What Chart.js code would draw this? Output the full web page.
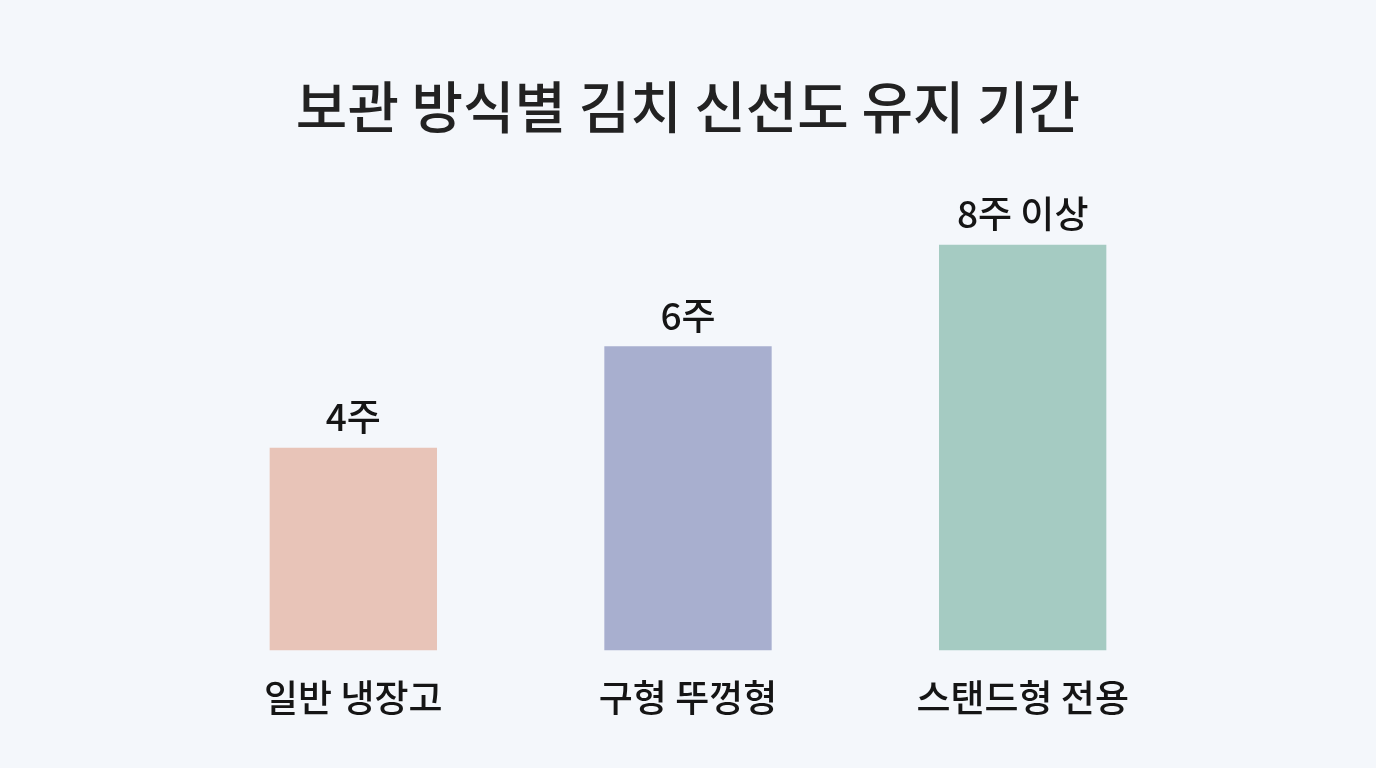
<!DOCTYPE html>
<html lang="ko">
<head>
<meta charset="utf-8">
<title>보관 방식별 김치 신선도 유지 기간</title>
<script src="https://cdn.jsdelivr.net/npm/chart.js@4.4.1/dist/chart.umd.min.js"></script>
<style>
  html, body { margin: 0; padding: 0; background: #f4f7fb; }
  #wrap { width: 1376px; height: 768px; }
</style>
</head>
<body>
<div id="wrap"><canvas id="kimchiChart"></canvas></div>
<script>
// data
const categories = ['일반 냉장고', '구형 뚜껑형', '스탠드형 전용'];
const weeks = [4, 6, 8];
const valueLabels = ['4주', '6주', '8주 이상'];
const barColors = ['#e8c4b8', '#a8afcf', '#a5cbc2'];

const FONT = "'Noto Sans CJK KR', 'Noto Sans', sans-serif";

// draws the text above each bar
const topLabels = {
  id: 'topLabels',
  afterDatasetsDraw(chart) {
    const ctx = chart.ctx;
    const meta = chart.getDatasetMeta(0);
    ctx.save();
    ctx.font = '500 37px ' + FONT;
    ctx.fillStyle = '#151515';
    ctx.textAlign = 'center';
    ctx.textBaseline = 'bottom';
    meta.data.forEach((bar, i) => {
      ctx.fillText(valueLabels[i], bar.x, bar.y - 12);
    });
    ctx.restore();
  }
};

new Chart(document.getElementById('kimchiChart'), {
  type: 'bar',
  data: {
    labels: categories,
    datasets: [{
      data: weeks,
      backgroundColor: barColors,
      borderWidth: 0,
      categoryPercentage: 1,
      barPercentage: 0.5
    }]
  },
  options: {
    responsive: true,
    maintainAspectRatio: false,
    animation: false,
    layout: { padding: { left: 186, right: 186, top: 0, bottom: 23 } },
    plugins: {
      legend: { display: false },
      tooltip: { enabled: false },
      title: {
        display: true,
        text: '보관 방식별 김치 신선도 유지 기간',
        color: '#222222',
        font: { family: FONT, size: 56, weight: '500', lineHeight: 1.2 },
        padding: { top: 73, bottom: 3 }
      }
    },
    scales: {
      x: {
        grid: { display: false, drawTicks: false },
        border: { display: false },
        ticks: { color: '#151515', padding: 25, font: { family: FONT, size: 37, weight: '500' } }
      },
      y: {
        display: false,
        min: 0,
        max: 10
      }
    }
  },
  plugins: [topLabels]
});
</script>
</body>
</html>
